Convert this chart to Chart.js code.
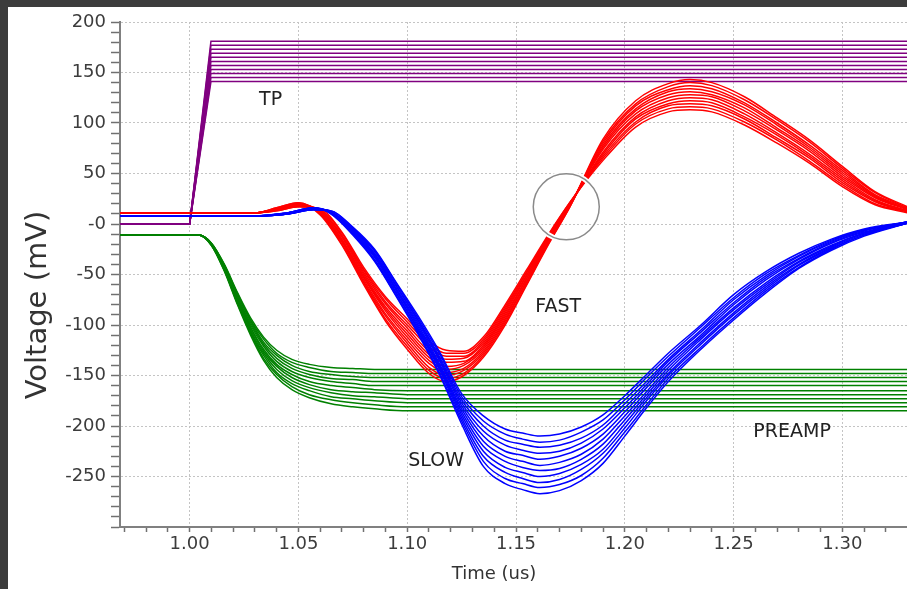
<!DOCTYPE html>
<html>
<head>
<meta charset="utf-8">
<script src="https://cdn.jsdelivr.net/npm/chart.js@4.4.0/dist/chart.umd.min.js"></script>
<style>
  html, body { margin: 0; padding: 0; }
  body { width: 907px; height: 589px; overflow: hidden; background: #3c3c3c; position: relative; }
  #chart { position: absolute; left: 8px; top: 7px; background: #fff; }
</style>
</head>
<body>
<canvas id="chart" width="899" height="582"></canvas>
<script>
// test pulse (TP): flat, fast ramp, then one level per sweep step
const tpTime = [0.968, 1.0, 1.0098, 1.33];
const tpLevels = [141, 145, 149, 153, 157, 161, 165, 169, 173, 177, 181];

// FAST shaper output, one row per sweep step
const fastTime = [0.968, 1.03, 1.04, 1.05, 1.06, 1.07, 1.08, 1.09, 1.1, 1.11, 1.118, 1.126, 1.135, 1.145,
  1.155, 1.165, 1.175, 1.19, 1.205, 1.22, 1.23, 1.24, 1.255, 1.27, 1.285, 1.3, 1.315, 1.33];
const fastCurves = [
  [11, 11, 13, 17, 15, -8, -43, -72, -94, -116, -125, -126, -112, -80, -45, -10, 22, 63, 96, 111, 113, 111, 98, 80, 60, 37, 19, 11],
  [11, 11, 13, 17, 14, -9, -45, -74, -97, -119, -128, -128, -114, -82, -47, -11, 22, 65, 99, 114, 116, 114, 101, 83, 62, 39, 20, 12],
  [11, 11, 14, 18, 14, -11, -46, -77, -100, -122, -131, -131, -116, -84, -48, -12, 21, 67, 101, 117, 119, 117, 104, 85, 65, 41, 22, 12],
  [11, 11, 14, 18, 13, -12, -48, -79, -103, -126, -134, -133, -118, -86, -50, -13, 21, 69, 104, 119, 122, 120, 106, 88, 67, 43, 23, 13],
  [11, 11, 14, 19, 13, -13, -50, -82, -106, -129, -137, -136, -120, -88, -51, -14, 20, 71, 106, 122, 125, 123, 109, 90, 69, 45, 24, 13],
  [11, 11, 15, 19, 12, -15, -52, -84, -109, -132, -141, -138, -122, -90, -53, -15, 20, 74, 109, 125, 128, 126, 112, 93, 72, 47, 26, 14],
  [11, 11, 15, 19, 11, -16, -53, -86, -112, -135, -144, -140, -124, -92, -54, -16, 20, 76, 112, 128, 131, 128, 115, 95, 74, 49, 27, 15],
  [11, 11, 15, 20, 11, -17, -55, -89, -115, -138, -147, -143, -126, -94, -56, -17, 19, 78, 114, 131, 134, 131, 118, 98, 76, 51, 28, 15],
  [11, 11, 15, 20, 10, -18, -57, -91, -118, -142, -150, -145, -128, -96, -57, -18, 19, 80, 117, 133, 137, 134, 120, 100, 78, 53, 29, 16],
  [11, 11, 16, 21, 10, -20, -58, -94, -121, -145, -153, -148, -130, -98, -59, -19, 18, 82, 119, 136, 140, 137, 123, 103, 81, 55, 31, 16],
  [11, 11, 16, 21, 9, -21, -60, -96, -124, -148, -156, -150, -132, -100, -60, -20, 18, 84, 122, 139, 143, 140, 126, 105, 83, 57, 32, 17]
];

// SLOW shaper output
const slowTime = [0.968, 1.03, 1.045, 1.057, 1.065, 1.075, 1.085, 1.095, 1.105, 1.115, 1.125, 1.135, 1.145, 1.153,
  1.161, 1.17, 1.18, 1.19, 1.2, 1.21, 1.22, 1.235, 1.25, 1.265, 1.28, 1.295, 1.31, 1.33];
const slowCurves = [
  [8, 8, 10, 14, 13, -3, -25, -58, -91, -127, -168, -190, -203, -207, -210, -208, -201, -189, -170, -149, -128, -100, -70, -47, -29, -15, -5, 2],
  [8, 8, 10, 14, 13, -4, -26, -59, -93, -129, -171, -195, -208, -213, -216, -214, -206, -194, -174, -152, -131, -102, -73, -49, -31, -16, -6, 2],
  [8, 8, 10, 14, 12, -5, -27, -61, -95, -132, -174, -200, -214, -218, -221, -219, -212, -199, -178, -156, -134, -105, -75, -51, -32, -17, -6, 2],
  [8, 8, 10, 15, 12, -5, -29, -62, -96, -134, -177, -205, -219, -224, -227, -225, -217, -203, -182, -159, -136, -107, -78, -53, -34, -18, -7, 2],
  [8, 8, 10, 15, 12, -6, -30, -64, -98, -136, -180, -210, -225, -229, -233, -230, -222, -208, -186, -162, -139, -110, -80, -55, -35, -19, -8, 2],
  [8, 8, 10, 15, 12, -7, -31, -65, -100, -139, -183, -215, -230, -235, -239, -236, -228, -213, -190, -166, -142, -112, -83, -58, -37, -21, -9, 2],
  [8, 8, 11, 15, 11, -8, -32, -66, -102, -141, -186, -220, -235, -241, -244, -242, -233, -218, -194, -169, -145, -114, -85, -60, -38, -22, -9, 1],
  [8, 8, 11, 15, 11, -9, -33, -68, -104, -143, -189, -225, -241, -246, -250, -247, -238, -223, -198, -172, -148, -117, -88, -62, -40, -23, -10, 1],
  [8, 8, 11, 16, 11, -9, -35, -69, -105, -145, -192, -230, -246, -252, -256, -253, -243, -227, -202, -175, -150, -119, -90, -64, -41, -24, -11, 1],
  [8, 8, 11, 16, 10, -10, -36, -71, -107, -148, -195, -235, -252, -257, -261, -258, -249, -232, -206, -179, -153, -122, -93, -66, -43, -25, -11, 1],
  [8, 8, 11, 16, 10, -11, -37, -72, -109, -150, -198, -240, -257, -263, -267, -264, -254, -237, -210, -182, -156, -124, -95, -68, -44, -26, -12, 1]
];

// PREAMP output
const preampTime = [0.968, 1.004, 1.01, 1.016, 1.022, 1.028, 1.034, 1.04, 1.047, 1.055, 1.065, 1.075, 1.085, 1.1, 1.12, 1.33];
const preampCurves = [
  [-11, -11, -19, -40, -68, -93, -112, -125, -134, -139, -142, -143, -144, -144, -144, -144],
  [-11, -11, -19, -41, -69, -95, -114, -128, -137, -142, -146, -147, -148, -148, -148, -148],
  [-11, -11, -19, -41, -70, -96, -117, -130, -140, -146, -149, -151, -152, -152, -152, -152],
  [-11, -11, -20, -42, -72, -98, -119, -133, -143, -149, -153, -154, -156, -156, -156, -156],
  [-11, -11, -20, -43, -73, -100, -121, -136, -146, -152, -156, -158, -160, -160, -160, -160],
  [-11, -11, -20, -44, -74, -102, -124, -139, -149, -156, -160, -162, -164, -165, -165, -165],
  [-11, -11, -20, -44, -75, -103, -126, -141, -152, -159, -164, -166, -167, -169, -169, -169],
  [-11, -11, -20, -45, -76, -105, -128, -144, -155, -162, -167, -170, -171, -173, -173, -173],
  [-11, -11, -21, -46, -78, -107, -130, -147, -158, -165, -171, -173, -175, -177, -177, -177],
  [-11, -11, -21, -46, -79, -108, -133, -149, -161, -169, -174, -177, -179, -181, -181, -181],
  [-11, -11, -21, -47, -80, -110, -135, -152, -164, -172, -178, -181, -183, -185, -185, -185]
];

// in-plot labels and the highlight circle
const noteText = ["TP", "FAST", "SLOW", "PREAMP"];
const noteTime = [1.0372, 1.1694, 1.1133, 1.2769];
const noteVolt = [123, -82, -235, -206];
const markTime = 1.1731;
const markVolt = 17;

Chart.defaults.font.family = "'DejaVu Sans', sans-serif";

function curve(times, vals, color, order, smooth) {
  return {
    data: times.map((t, k) => ({ x: t, y: vals[k] })),
    borderColor: color,
    borderWidth: 1.5,
    pointRadius: 0,
    fill: false,
    order: order,
    cubicInterpolationMode: smooth ? "monotone" : "default"
  };
}

const datasets = [];
slowCurves.forEach(v => datasets.push(curve(slowTime, v, "#0000ff", 0, true)));
fastCurves.forEach(v => datasets.push(curve(fastTime, v, "#ff0000", 1, true)));
preampCurves.forEach(v => datasets.push(curve(preampTime, v, "#008000", 2, true)));
tpLevels.forEach(l => datasets.push(curve(tpTime, [0, 0, l, l], "#800080", 3, false)));

const overlay = {
  id: "overlay",
  afterDatasetsDraw(chart) {
    const { ctx, scales: { x, y } } = chart;
    ctx.save();
    ctx.beginPath();
    ctx.arc(x.getPixelForValue(markTime), y.getPixelForValue(markVolt), 33, 0, Math.PI * 2);
    ctx.lineWidth = 5;
    ctx.strokeStyle = "#ffffff";
    ctx.stroke();
    ctx.lineWidth = 1.5;
    ctx.strokeStyle = "#8a8a8a";
    ctx.stroke();

    ctx.font = "19px 'DejaVu Sans'";
    ctx.fillStyle = "#222";
    ctx.textAlign = "center";
    ctx.textBaseline = "middle";
    noteText.forEach((s, i) => ctx.fillText(s, x.getPixelForValue(noteTime[i]), y.getPixelForValue(noteVolt[i])));
    ctx.restore();
  },
  afterDraw(chart) {
    const ctx = chart.ctx;
    ctx.save();
    ctx.fillStyle = "#333";
    ctx.textAlign = "center";
    ctx.textBaseline = "middle";
    ctx.font = "18px 'DejaVu Sans'";
    ctx.fillText("Time (us)", 486, 567);
    ctx.translate(30, 298);
    ctx.rotate(-Math.PI / 2);
    ctx.font = "29px 'DejaVu Sans'";
    ctx.fillText("Voltage (mV)", 0, 0);
    ctx.restore();
  }
};

const gridGray = "#c4c4c4";
const clear = "rgba(0,0,0,0)";

new Chart(document.getElementById("chart"), {
  type: "line",
  data: { datasets },
  plugins: [overlay],
  options: {
    responsive: false,
    animation: false,
    events: [],
    layout: { padding: { top: 15, left: 0, right: 0, bottom: 0 } },
    plugins: { legend: { display: false }, tooltip: { enabled: false } },
    scales: {
      x: {
        type: "linear",
        min: 0.968,
        max: 1.3297,
        ticks: {
          stepSize: 0.01,
          includeBounds: false,
          autoSkip: false,
          maxRotation: 0,
          minRotation: 0,
          padding: 3,
          color: "#3c3c3c",
          font: { size: 18, lineHeight: 1 },
          callback: v => (Math.round(v * 100) % 5 === 0 ? v.toFixed(2) : "")
        },
        grid: {
          color: c => (c.tick && Math.round(c.tick.value * 100) % 5 === 0 ? gridGray : clear),
          tickColor: "#707070",
          tickLength: 5,
          tickWidth: 1.5
        },
        border: { color: "#808080", width: 2, dash: [2, 2] },
        afterFit: s => { s.height = 62; }
      },
      y: {
        min: -300,
        max: 200,
        ticks: {
          stepSize: 10,
          includeBounds: false,
          autoSkip: false,
          padding: 5,
          color: "#3c3c3c",
          font: { size: 18, lineHeight: 1 },
          callback: v => (v % 50 === 0 && v > -300 ? (v === 0 ? "-0" : String(v)) : "")
        },
        grid: {
          color: c => (c.tick && c.tick.value % 50 === 0 && c.tick.value > -300 ? gridGray : clear),
          tickColor: "#707070",
          tickLength: 9,
          tickWidth: 1.5
        },
        border: { color: "#808080", width: 2, dash: [2, 2] },
        afterFit: s => { s.width = 112; }
      }
    }
  }
});
</script>
</body>
</html>
